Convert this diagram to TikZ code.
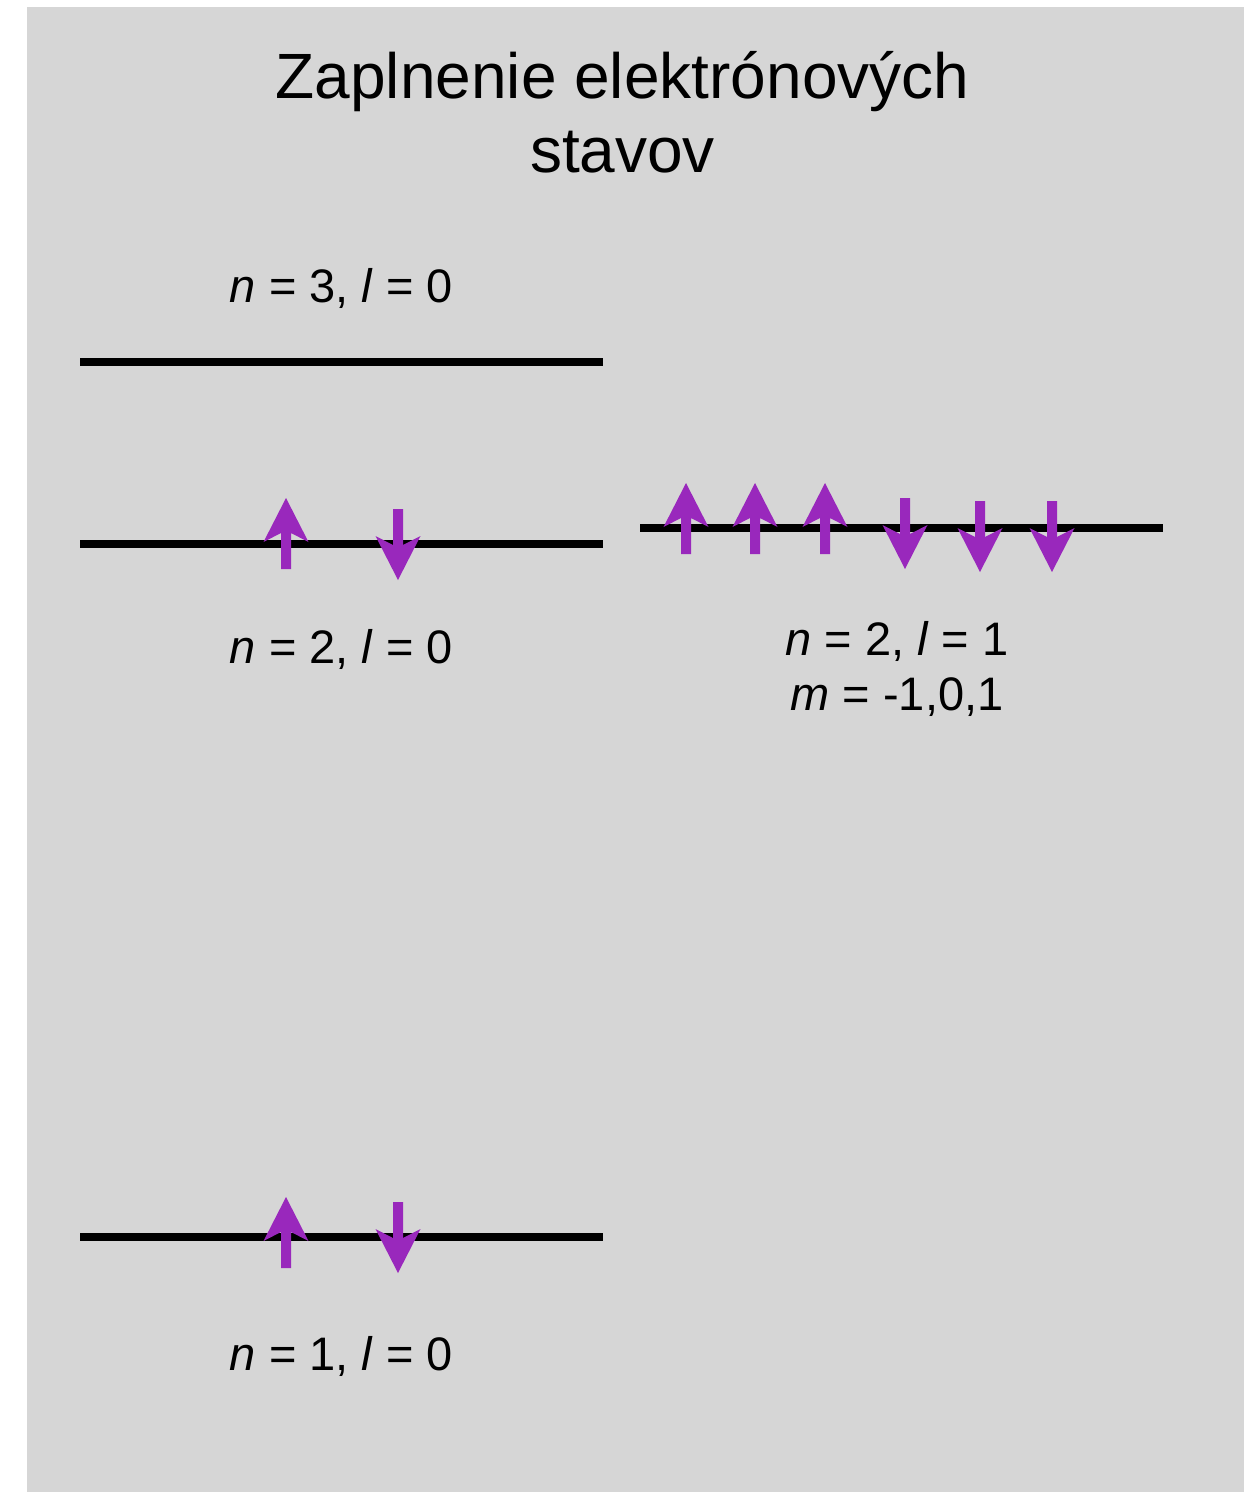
\documentclass[tikz,border=0pt]{standalone}
\usepackage{fontspec}
\setmainfont{Liberation Sans}
\definecolor{bggrey}{RGB}{214,214,214}
\definecolor{spinpurple}{RGB}{153,40,188}
\tikzset{
  level/.style={line width=8pt, line cap=butt, black},
  spin/.style={fill=spinpurple},
  titletext/.style={inner sep=0pt, anchor=base, font=\fontsize{64}{74}\selectfont},
  labeltext/.style={inner sep=0pt, anchor=base, font=\fontsize{47}{56}\selectfont},
  spinup/.pic={\fill[spin] (0,0) -- (22.5,44) -- (5,35) -- (5,71) -- (-5,71) -- (-5,35) -- (-22.5,44) -- cycle;},
  spindown/.pic={\fill[spin] (0,71) -- (22.5,27) -- (5,36) -- (5,0) -- (-5,0) -- (-5,36) -- (-22.5,27) -- cycle;}
}
\begin{document}
\begin{tikzpicture}[x=1pt, y=-1pt]
  \useasboundingbox (0,0) rectangle (1253,1492);
  \fill[bggrey] (26.5,7) rectangle (1244,1492);

  % title
  \node[titletext] (title1) at (622.5,98) {Zaplnenie elektrónových};
  \node[titletext] (title2) at (622.5,172) {stavov};

  % levels
  \draw[level] (80,362) -- (603,362);
  \draw[level] (80,544) -- (603,544);
  \draw[level] (640,528) -- (1163,528);
  \draw[level] (80,1237) -- (603,1237);

  % labels
  \node[labeltext] (l3s) at (341.5,302) {\textit{n} = 3, \textit{l} = 0};
  \node[labeltext] (l2s) at (341.5,663) {\textit{n} = 2, \textit{l} = 0};
  \node[labeltext] (l2pa) at (897,655) {\textit{n} = 2, \textit{l} = 1};
  \node[labeltext] (l2pb) at (897,710) {\textit{m} = -1,0,1};
  \node[labeltext] (l1s) at (341.5,1370) {\textit{n} = 1, \textit{l} = 0};

  % spins 2s
  \pic at (286,498) {spinup};
  \pic at (398,509) {spindown};
  % spins 2p
  \pic at (686,483) {spinup};
  \pic at (755,483) {spinup};
  \pic at (825,483) {spinup};
  \pic at (905,498) {spindown};
  \pic at (980,501) {spindown};
  \pic at (1052,501) {spindown};
  % spins 1s
  \pic at (286,1197) {spinup};
  \pic at (398,1202) {spindown};
\end{tikzpicture}
\end{document}
